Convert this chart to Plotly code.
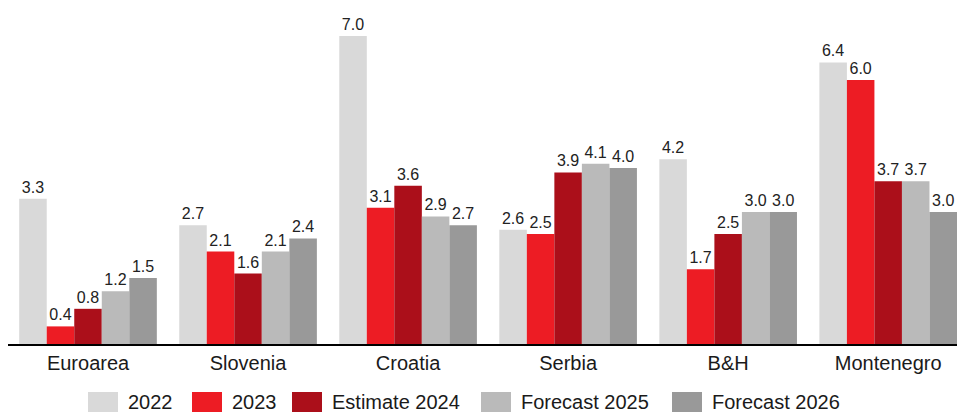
import plotly.graph_objects as go

categories = ["Euroarea", "Slovenia", "Croatia", "Serbia", "B&H", "Montenegro"]
series_names = ["2022", "2023", "Estimate 2024", "Forecast 2025", "Forecast 2026"]
v2022 = [3.3, 2.7, 7.0, 2.6, 4.2, 6.4]
v2023 = [0.4, 2.1, 3.1, 2.5, 1.7, 6.0]
v2024 = [0.8, 1.6, 3.6, 3.9, 2.5, 3.7]
v2025 = [1.2, 2.1, 2.9, 4.1, 3.0, 3.7]
v2026 = [1.5, 2.4, 2.7, 4.0, 3.0, 3.0]
colors = ["#d9d9d9", "#ed1c24", "#ab0f1a", "#bababa", "#999999"]

# legend layout (pixel positions of swatches' left edges)
legend_px = [88, 192, 292, 481, 672]

W, H = 957, 412
ML, MB = 8, 68
PW, PH = W - ML, H - MB

fig = go.Figure()
for name, vals, col in zip(series_names, [v2022, v2023, v2024, v2025, v2026], colors):
    fig.add_trace(go.Bar(
        x=categories, y=vals, name=name, showlegend=False,
        marker=dict(color=col, line=dict(width=0)),
        text=[f"{v:.1f}" for v in vals], textposition="outside",
        textfont=dict(size=16, color="#222222", family="Liberation Sans"),
        cliponaxis=False,
    ))

def px_x(p):
    return (p - ML) / PW

def px_y(p):
    return (PH - p) / PH

for name, col, lx in zip(series_names, colors, legend_px):
    fig.add_shape(type="rect", xref="paper", yref="paper",
                  x0=px_x(lx), x1=px_x(lx + 30), y0=px_y(412), y1=px_y(392),
                  fillcolor=col, line=dict(width=0), layer="above")
    fig.add_annotation(xref="paper", yref="paper", x=px_x(lx + 38), y=px_y(402),
                       xanchor="left", yanchor="middle", text=name, showarrow=False,
                       font=dict(size=20, color="#1a1a1a", family="Liberation Sans"))

fig.update_layout(
    width=W, height=H,
    margin=dict(l=ML, r=0, t=0, b=MB, autoexpand=False),
    barmode="group", bargap=0.14, bargroupgap=0,
    plot_bgcolor="white", paper_bgcolor="white",
    font=dict(family="Liberation Sans", size=20, color="#1a1a1a"),
    xaxis=dict(range=[-0.5, 5.43], showline=True, linecolor="black", linewidth=1.5,
               ticks="", showgrid=False, tickfont=dict(size=20)),
    yaxis=dict(range=[0, 7.82], visible=False, showgrid=False),
    showlegend=False,
)
fig.write_html("out.html")
